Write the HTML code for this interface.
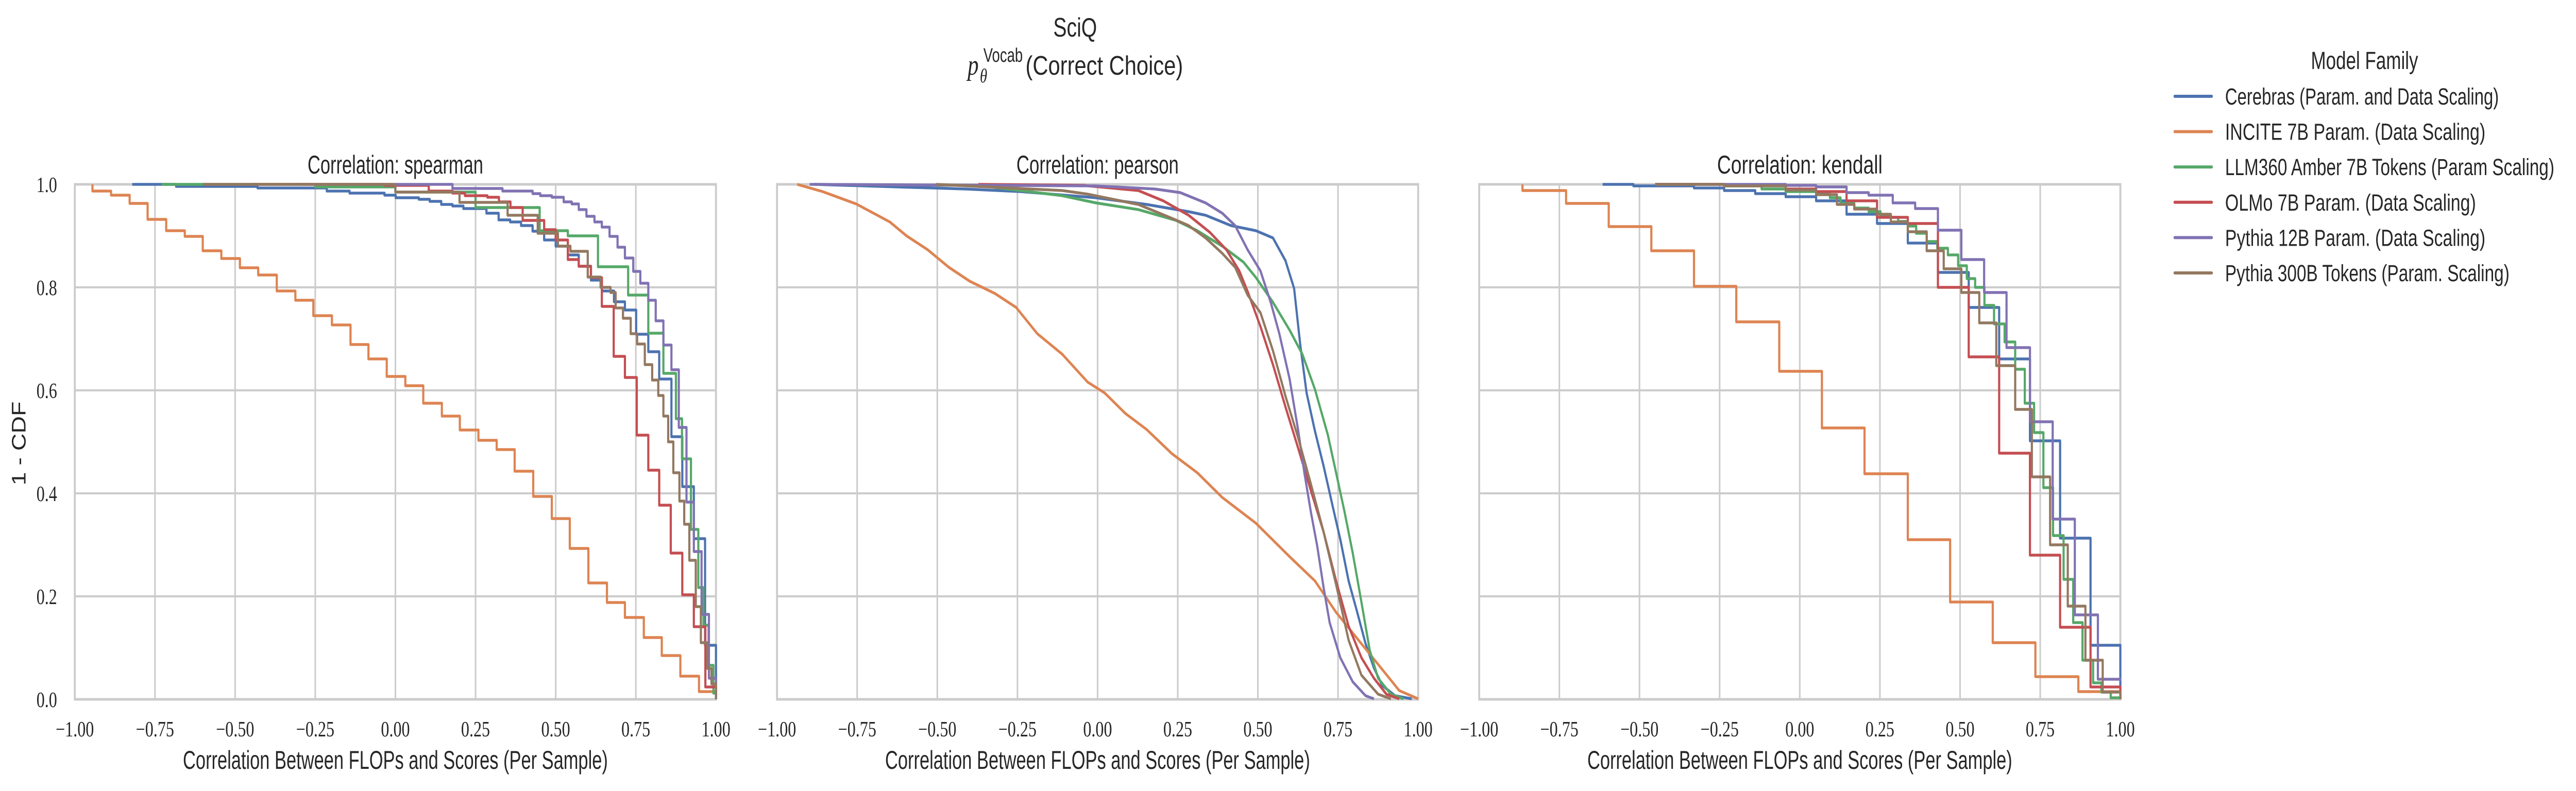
<!DOCTYPE html>
<html><head><meta charset="utf-8">
<style>
html,body{margin:0;padding:0;background:#fff;width:100%;height:100%;overflow:hidden;}
svg{display:block;width:100vw;height:100vh;}
.sans{font-family:"Liberation Sans",sans-serif;fill:#262626;}
.serif{font-family:"Liberation Serif",serif;fill:#262626;}
</style></head>
<body>
<svg id="fig" viewBox="0 0 6541 1536" preserveAspectRatio="none" xmlns="http://www.w3.org/2000/svg">
<rect width="6541" height="1536" fill="#fff"/>
<text class="sans" x="2730" y="71" font-size="52" text-anchor="middle" textLength="111" lengthAdjust="spacingAndGlyphs">SciQ</text>
<g>
<text class="serif" x="2457" y="145" font-size="56" font-style="italic">p</text>
<text class="serif" x="2488" y="160" font-size="38" font-style="italic">θ</text>
<text class="sans" x="2497" y="120" font-size="38" textLength="100" lengthAdjust="spacingAndGlyphs">Vocab</text>
<text class="sans" x="2604" y="145" font-size="52" textLength="400" lengthAdjust="spacingAndGlyphs">(Correct Choice)</text>
</g>
<g id="panels"></g>
<g id="legend"></g>
</svg>
<script>
// ---------- data ----------
const seriesNames = ["Cerebras (Param. and Data Scaling)","INCITE 7B Param. (Data Scaling)","LLM360 Amber 7B Tokens (Param Scaling)","OLMo 7B Param. (Data Scaling)","Pythia 12B Param. (Data Scaling)","Pythia 300B Tokens (Param. Scaling)"];
const seriesColors = ["#4c72b0","#dd8452","#55a868","#c44e52","#8172b3","#937860"];
const panelTitles = ["Correlation: spearman","Correlation: pearson","Correlation: kendall"];
const xTicks = [-1,-0.75,-0.5,-0.25,0,0.25,0.5,0.75,1];
const xTickLabels = ["\u22121.00","\u22120.75","\u22120.50","\u22120.25","0.00","0.25","0.50","0.75","1.00"];
const yTicks = [0,0.2,0.4,0.6,0.8,1.0];
const yTickLabels = ["0.0","0.2","0.4","0.6","0.8","1.0"];

// spearman (step: x where the value drops, y after drop; first = start at 1.0)
const spCerebrasX = [-0.821,-0.684,-0.430,-0.214,-0.143,-0.034,0.001,0.073,0.107,0.143,0.178,0.212,0.284,0.322,0.358,0.392,0.428,0.464,0.500,0.538,0.572,0.610,0.644,0.682,0.716,0.751,0.789,0.823,0.861,0.895,0.931,0.966,1.0];
const spCerebrasY = [1.0,0.996,0.993,0.987,0.983,0.979,0.974,0.971,0.967,0.961,0.958,0.953,0.944,0.931,0.927,0.920,0.909,0.892,0.880,0.863,0.841,0.814,0.793,0.772,0.756,0.709,0.675,0.622,0.510,0.413,0.312,0.105,0.0];
const spInciteX = [-0.945,-0.945,-0.887,-0.829,-0.773,-0.715,-0.657,-0.601,-0.543,-0.485,-0.428,-0.370,-0.312,-0.256,-0.198,-0.140,-0.084,-0.027,0.031,0.087,0.145,0.201,0.259,0.316,0.372,0.430,0.488,0.544,0.602,0.660,0.716,0.775,0.831,0.889,0.947,1.0];
const spInciteY = [1.0,0.987,0.979,0.963,0.932,0.910,0.899,0.871,0.856,0.838,0.824,0.793,0.775,0.745,0.727,0.689,0.661,0.627,0.609,0.575,0.550,0.523,0.503,0.485,0.443,0.394,0.351,0.293,0.226,0.188,0.159,0.120,0.085,0.045,0.015,0.0];
const spAmberX = [-0.73,-0.25,0.0,0.25,0.45,0.538,0.632,0.726,0.789,0.836,0.875,0.894,0.922,0.945,0.961,0.977,0.992,1.0];
const spAmberY = [1.0,0.995,0.985,0.955,0.91,0.90,0.84,0.785,0.711,0.633,0.545,0.467,0.33,0.217,0.144,0.066,0.012,0.0];
const spOlmoX = [-0.45,-0.034,0.104,0.178,0.217,0.287,0.323,0.359,0.397,0.464,0.500,0.538,0.572,0.610,0.644,0.681,0.716,0.753,0.789,0.823,0.859,0.895,0.931,0.967,1.0];
const spOlmoY = [1.0,0.998,0.987,0.983,0.978,0.975,0.966,0.955,0.930,0.912,0.892,0.854,0.841,0.819,0.763,0.666,0.625,0.513,0.445,0.377,0.284,0.203,0.141,0.024,0.0];
const spPythia12X = [-0.30,0.178,0.334,0.428,0.452,0.488,0.525,0.550,0.572,0.596,0.621,0.644,0.668,0.693,0.716,0.742,0.764,0.789,0.812,0.836,0.861,0.884,0.908,0.931,0.955,0.978,1.0];
const spPythia12Y = [1.0,0.992,0.987,0.982,0.978,0.975,0.966,0.962,0.951,0.938,0.927,0.917,0.899,0.878,0.857,0.831,0.808,0.775,0.735,0.688,0.640,0.528,0.383,0.287,0.165,0.041,0.0];
const spPythia300X = [-0.60,0.0,0.2,0.35,0.444,0.507,0.546,0.60,0.640,0.671,0.687,0.710,0.734,0.754,0.778,0.801,0.820,0.836,0.851,0.867,0.886,0.901,0.917,0.937,0.953,0.973,0.986,1.0];
const spPythia300Y = [1.0,0.985,0.965,0.94,0.905,0.88,0.87,0.82,0.80,0.79,0.76,0.74,0.71,0.69,0.65,0.62,0.59,0.55,0.50,0.44,0.385,0.34,0.27,0.18,0.11,0.06,0.03,0.0];

// pearson (dense empirical curves, sampled points)
const peCerebrasX = [-0.884,-0.412,-0.241,-0.005,0.153,0.284,0.337,0.416,0.494,0.547,0.586,0.613,0.632,0.652,0.678,0.705,0.737,0.757,0.783,0.810,0.836,0.862,0.888,0.928,0.980];
const peCerebrasY = [1.0,0.991,0.986,0.974,0.961,0.947,0.940,0.920,0.910,0.896,0.852,0.798,0.690,0.595,0.521,0.453,0.365,0.311,0.230,0.169,0.108,0.061,0.027,0.007,0.001];
const peInciteX = [-0.937,-0.858,-0.753,-0.648,-0.596,-0.530,-0.464,-0.399,-0.320,-0.254,-0.188,-0.110,-0.031,0.022,0.087,0.153,0.232,0.311,0.389,0.494,0.599,0.678,0.744,0.810,0.875,0.941,1.0];
const peInciteY = [1.0,0.986,0.962,0.927,0.900,0.873,0.839,0.812,0.788,0.761,0.710,0.670,0.616,0.595,0.555,0.524,0.477,0.440,0.392,0.342,0.277,0.230,0.169,0.118,0.068,0.017,0.001];
const peAmberX = [-0.884,-0.372,-0.110,-0.005,0.127,0.245,0.311,0.389,0.455,0.494,0.547,0.599,0.639,0.678,0.718,0.744,0.770,0.796,0.823,0.849,0.875,0.915,0.954];
const peAmberY = [1.0,0.998,0.978,0.964,0.951,0.930,0.910,0.880,0.849,0.819,0.771,0.717,0.670,0.602,0.514,0.440,0.365,0.284,0.189,0.095,0.041,0.010,0.001];
const peOlmoX = [-0.372,-0.044,0.127,0.205,0.284,0.350,0.402,0.442,0.468,0.508,0.547,0.586,0.626,0.665,0.705,0.744,0.783,0.823,0.862,0.901,0.941];
const peOlmoY = [1.0,0.998,0.988,0.968,0.940,0.907,0.873,0.832,0.792,0.724,0.650,0.568,0.487,0.406,0.325,0.230,0.142,0.081,0.041,0.010,0.001];
const pePythia12X = [-0.898,-0.005,0.179,0.258,0.337,0.389,0.429,0.468,0.508,0.540,0.567,0.599,0.626,0.645,0.665,0.685,0.705,0.724,0.757,0.796,0.836,0.862];
const pePythia12Y = [1.0,0.997,0.991,0.984,0.964,0.944,0.920,0.873,0.832,0.771,0.710,0.622,0.521,0.440,0.365,0.298,0.217,0.149,0.081,0.034,0.007,0.001];
const pePythia300X = [-0.504,-0.110,-0.031,0.127,0.232,0.284,0.337,0.389,0.429,0.468,0.508,0.547,0.586,0.626,0.665,0.705,0.744,0.783,0.823,0.875,0.915];
const pePythia300Y = [1.0,0.988,0.981,0.961,0.934,0.920,0.896,0.866,0.839,0.785,0.751,0.677,0.589,0.507,0.419,0.325,0.223,0.115,0.047,0.010,0.001];

// kendall (step)
const kdCerebrasX = [-0.615,-0.519,-0.330,-0.236,-0.139,-0.044,0.051,0.146,0.241,0.337,0.431,0.527,0.622,0.718,0.812,0.907,1.0];
const kdCerebrasY = [1.0,0.997,0.993,0.988,0.982,0.976,0.968,0.942,0.924,0.886,0.829,0.761,0.661,0.502,0.313,0.105,0.0];
const kdInciteX = [-0.865,-0.865,-0.729,-0.596,-0.463,-0.330,-0.198,-0.064,0.069,0.202,0.337,0.469,0.602,0.735,0.869,1.0];
const kdInciteY = [1.0,0.988,0.963,0.918,0.871,0.802,0.733,0.637,0.527,0.438,0.310,0.189,0.110,0.044,0.015,0.0];
const kdAmberX = [-0.451,-0.236,-0.119,-0.044,0.051,0.094,0.127,0.170,0.215,0.252,0.284,0.307,0.337,0.363,0.396,0.429,0.462,0.494,0.521,0.547,0.576,0.606,0.639,0.672,0.702,0.731,0.760,0.790,0.823,0.853,0.882,0.915,0.941,0.970,1.0];
const kdAmberY = [1.0,0.997,0.991,0.986,0.981,0.974,0.963,0.954,0.947,0.940,0.936,0.928,0.919,0.905,0.889,0.876,0.863,0.842,0.817,0.800,0.765,0.729,0.694,0.641,0.575,0.518,0.411,0.318,0.233,0.149,0.076,0.032,0.014,0.003,0.0];
const kdOlmoX = [-0.451,-0.236,-0.044,0.051,0.146,0.241,0.337,0.431,0.527,0.622,0.718,0.812,0.907,1.0];
const kdOlmoY = [1.0,0.999,0.991,0.986,0.968,0.936,0.924,0.800,0.665,0.478,0.280,0.140,0.024,0.0];
const kdPythia12X = [-0.451,-0.044,0.051,0.146,0.215,0.290,0.360,0.431,0.504,0.575,0.645,0.718,0.789,0.858,0.930,1.0];
const kdPythia12Y = [1.0,0.998,0.995,0.984,0.979,0.964,0.953,0.911,0.854,0.790,0.683,0.539,0.350,0.164,0.039,0.036];
const kdPythia300X = [-0.451,-0.236,-0.044,0.051,0.116,0.170,0.241,0.284,0.337,0.396,0.449,0.504,0.560,0.613,0.672,0.724,0.781,0.836,0.891,0.945,1.0];
const kdPythia300Y = [1.0,0.997,0.989,0.980,0.961,0.952,0.942,0.927,0.908,0.871,0.836,0.790,0.731,0.648,0.563,0.432,0.300,0.181,0.076,0.014,0.0];

const panelSeriesX = [
  [spCerebrasX,spInciteX,spAmberX,spOlmoX,spPythia12X,spPythia300X],
  [peCerebrasX,peInciteX,peAmberX,peOlmoX,pePythia12X,pePythia300X],
  [kdCerebrasX,kdInciteX,kdAmberX,kdOlmoX,kdPythia12X,kdPythia300X]];
const panelSeriesY = [
  [spCerebrasY,spInciteY,spAmberY,spOlmoY,spPythia12Y,spPythia300Y],
  [peCerebrasY,peInciteY,peAmberY,peOlmoY,pePythia12Y,pePythia300Y],
  [kdCerebrasY,kdInciteY,kdAmberY,kdOlmoY,kdPythia12Y,kdPythia300Y]];
const panelStep = [true,false,true];

// ---------- layout ----------
const NS = "http://www.w3.org/2000/svg";
const panelLeft = [190,1973,3756];
const PW = 1628, PT = 358, PH = 1000;
const titleWidths = [446,412,420];
function mk(tag, attrs, parent){const e=document.createElementNS(NS,tag);for(const k in attrs)e.setAttribute(k,attrs[k]);parent.appendChild(e);return e;}

const panels = document.getElementById('panels');
for (let p=0;p<3;p++){
  const L = panelLeft[p];
  const sx = v => L + (v+1)/2*PW;
  const sy = v => PT + (1-v)*PH;
  const g = mk('g',{},panels);
  
  
  xTicks.forEach((t,i)=>{
    const ln = mk('line',{x1:sx(t),x2:sx(t),y1:PT,y2:PT+PH,stroke:'#cccccc','stroke-width':4},g);
    
    
    const tx = mk('text',{x:sx(t),y:1430,'font-size':42,'text-anchor':'middle',class:'serif'},g);
    tx.textContent = xTickLabels[i];
    
    
  });
  yTicks.forEach((t,i)=>{
    const ln = mk('line',{x1:L,x2:L+PW,y1:sy(t),y2:sy(t),stroke:'#cccccc','stroke-width':4},g);
    
    
    if (p===0){
      const tx = mk('text',{x:145,y:sy(t)+15,'font-size':42,'text-anchor':'end',class:'serif'},g);
      tx.textContent = yTickLabels[i];
      
      
    }
  });
  const fr = mk('rect',{x:L,y:PT,width:PW,height:PH,fill:'none',stroke:'#cccccc','stroke-width':5},g);
  
  
  for (let s=0;s<6;s++){
    const xs = panelSeriesX[p][s], ys = panelSeriesY[p][s];
    let d = 'M'+sx(xs[0]).toFixed(1)+','+sy(ys[0]).toFixed(1);
    for (let i=1;i<xs.length;i++){
      if (panelStep[p]) d += 'H'+sx(xs[i]).toFixed(1)+'V'+sy(ys[i]).toFixed(1);
      else d += 'L'+sx(xs[i]).toFixed(1)+','+sy(ys[i]).toFixed(1);
    }
    if (panelStep[p]) d += 'H'+sx(1).toFixed(1);
    const path = mk('path',{d:d,fill:'none',stroke:seriesColors[s],'stroke-width':5.5,'stroke-linejoin':'round','stroke-linecap':'butt'},g);
    
    
  }
  const t = mk('text',{x:L+PW/2,y:337,'font-size':50,'text-anchor':'middle',class:'sans',textLength:titleWidths[p],lengthAdjust:'spacingAndGlyphs'},g);
  t.textContent = panelTitles[p];
  
  
  const xl = mk('text',{x:L+PW/2,y:1493,'font-size':50,'text-anchor':'middle',class:'sans',textLength:1079,lengthAdjust:'spacingAndGlyphs'},g);
  xl.textContent = 'Correlation Between FLOPs and Scores (Per Sample)';
  
  
}
const yl = mk('text',{x:0,y:0,'font-size':50,'text-anchor':'middle',class:'sans',transform:'translate(65,861) rotate(-90)',textLength:163,lengthAdjust:'spacingAndGlyphs'},panels);
yl.textContent = '1 - CDF';



const leg = document.getElementById('legend');
const lt = mk('text',{x:6004,y:134,'font-size':48,'text-anchor':'middle',class:'sans',textLength:272,lengthAdjust:'spacingAndGlyphs'},leg);
lt.textContent = 'Model Family';


const legendWidths = [695,661,836,637,661,722];
for (let s=0;s<6;s++){
  const cy = 187 + s*68.6;
  const ln = mk('line',{x1:5522,x2:5616,y1:cy,y2:cy,stroke:seriesColors[s],'stroke-width':6,'stroke-linecap':'round'},leg);
  
  
  const tx = mk('text',{x:5650,y:cy+16,'font-size':45,class:'sans',textLength:legendWidths[s],lengthAdjust:'spacingAndGlyphs'},leg);
  tx.textContent = seriesNames[s];
  
  
}
</script>
</body></html>
